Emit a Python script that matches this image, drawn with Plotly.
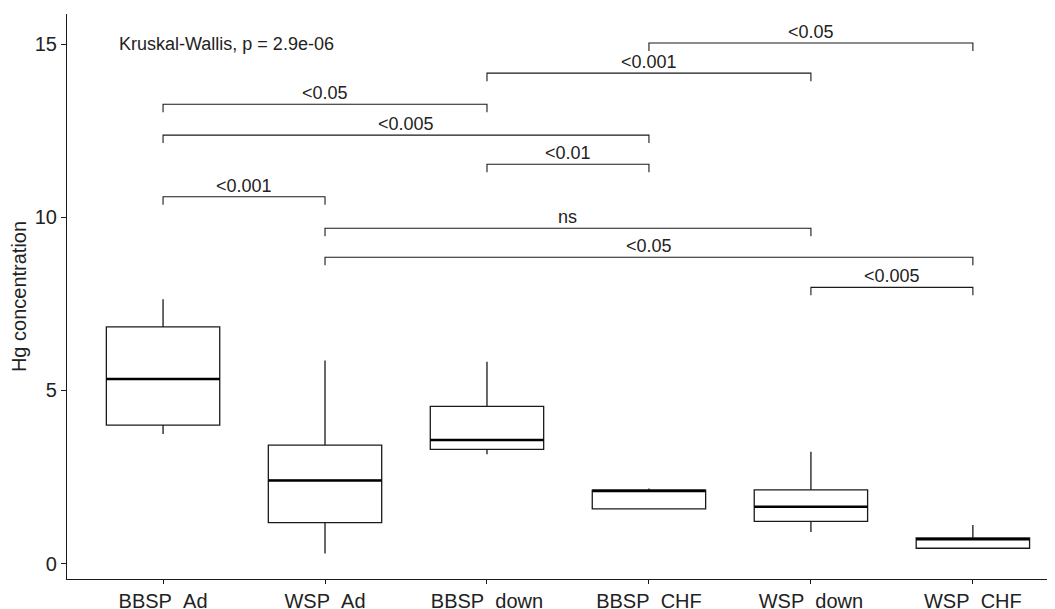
import plotly.graph_objects as go

# ---- data ----
categories = ["BBSP_Ad", "WSP_Ad", "BBSP_down", "BBSP_CHF", "WSP_down", "WSP_CHF"]
lower_whisker = [3.74, 0.29, 3.16, 1.58, 0.91, 0.44]
q1_values = [4.00, 1.18, 3.30, 1.58, 1.22, 0.44]
median_values = [5.33, 2.40, 3.57, 2.10, 1.64, 0.70]
q3_values = [6.84, 3.42, 4.54, 2.12, 2.13, 0.74]
upper_whisker = [7.64, 5.87, 5.83, 2.17, 3.23, 1.11]

# pairwise comparisons (group index from, group index to, bracket height, label)
bracket_from = [3, 2, 0, 0, 2, 0, 1, 1, 4]
bracket_to = [5, 4, 2, 3, 3, 1, 4, 5, 5]
bracket_y = [15.04, 14.17, 13.27, 12.38, 11.54, 10.60, 9.69, 8.85, 7.98]
bracket_labels = ["<0.05", "<0.001", "<0.05", "<0.005", "<0.01", "<0.001", "ns", "<0.05", "<0.005"]

kruskal_label = "Kruskal-Wallis, p = 2.9e-06"
y_ticks = [0, 5, 10, 15]
y_title = "Hg concentration"

FONT = "Liberation Sans, Arial, sans-serif"
BOX_W = 0.7
TIP = 0.23

fig = go.Figure()

for i, cat in enumerate(categories):
    fig.add_trace(go.Box(
        x=[i], q1=[q1_values[i]], median=[median_values[i]], q3=[q3_values[i]],
        lowerfence=[lower_whisker[i]], upperfence=[upper_whisker[i]],
        width=BOX_W, whiskerwidth=0, fillcolor="white",
        line=dict(color="#1a1a1a", width=1.3), boxpoints=False,
        showlegend=False, name=cat, hoverinfo="skip"))

# thicker median lines (as in ggplot)
mx, my = [], []
for i, m in enumerate(median_values):
    mx += [i - BOX_W / 2, i + BOX_W / 2, None]
    my += [m, m, None]
fig.add_trace(go.Scatter(x=mx, y=my, mode="lines",
                         line=dict(color="black", width=2.6),
                         showlegend=False, hoverinfo="skip"))

# significance brackets
bx, by = [], []
for a, b, h in zip(bracket_from, bracket_to, bracket_y):
    bx += [a, a, b, b, None]
    by += [h - TIP, h, h, h - TIP, None]
fig.add_trace(go.Scatter(x=bx, y=by, mode="lines",
                         line=dict(color="#1a1a1a", width=1.1),
                         showlegend=False, hoverinfo="skip"))

for a, b, h, lab in zip(bracket_from, bracket_to, bracket_y, bracket_labels):
    fig.add_annotation(x=(a + b) / 2, y=h, text=lab, showarrow=False,
                       xanchor="center", yanchor="bottom", yshift=-1,
                       font=dict(family=FONT, size=18, color="#222"))

fig.add_annotation(x=-0.285, y=15.0, text=kruskal_label, showarrow=False,
                   xanchor="left", yanchor="middle",
                   font=dict(family=FONT, size=18, color="#222"))

fig.update_layout(
    width=1055, height=609,
    margin=dict(l=59, r=8, t=6, b=38),
    paper_bgcolor="white", plot_bgcolor="white",
    font=dict(family=FONT, color="#222"),
    xaxis=dict(range=[-0.593, 5.507], tickvals=list(range(len(categories))),
               ticktext=categories, showline=True, linecolor="#1a1a1a",
               linewidth=1.2, ticks="outside", ticklen=4, tickcolor="#1a1a1a",
               showgrid=False, zeroline=False, automargin=False,
               tickfont=dict(family=FONT, size=20, color="#222")),
    yaxis=dict(range=[-0.448, 15.88], tickvals=y_ticks, showline=True,
               linecolor="#1a1a1a", linewidth=1.2, ticks="outside", ticklen=5,
               tickcolor="#1a1a1a", showgrid=False, zeroline=False,
               automargin=False,
               tickfont=dict(family=FONT, size=20, color="#222"),
               title=dict(text=y_title, standoff=6,
                          font=dict(family=FONT, size=20, color="#222"))),
)

fig.write_html("out.html", config={"displayModeBar": False})
